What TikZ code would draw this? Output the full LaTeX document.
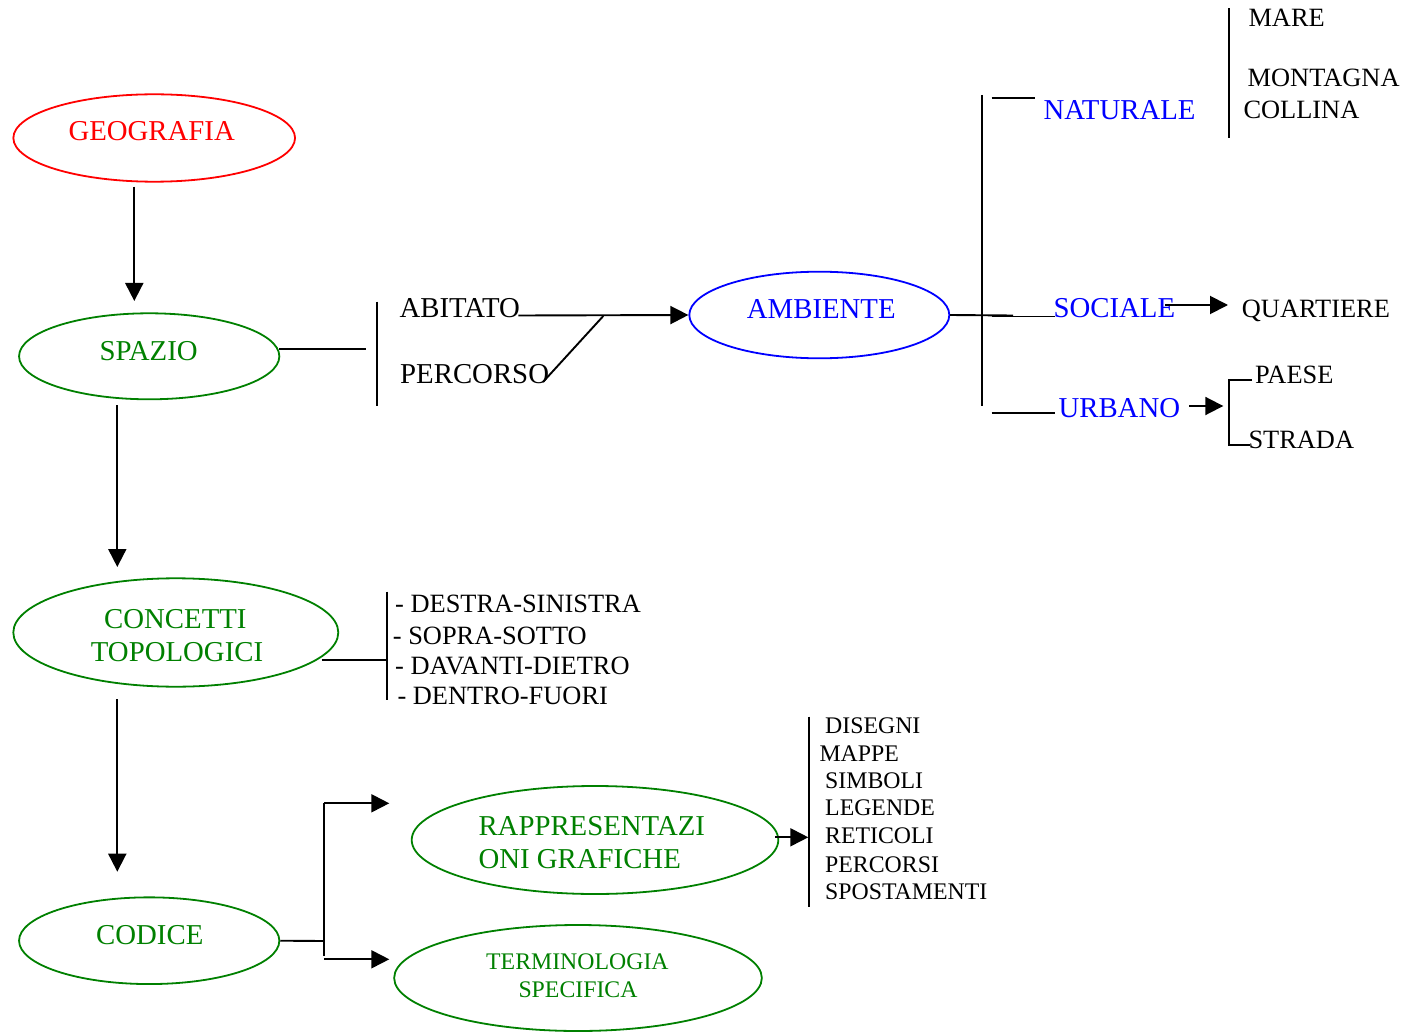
\documentclass[tikz,border=0pt]{standalone}
\usepackage{fontspec}
\setmainfont{Liberation Serif}
\usetikzlibrary{shapes.geometric,arrows.meta}
\definecolor{cred}{RGB}{255,0,0}
\definecolor{cgreen}{RGB}{0,128,0}
\definecolor{cblue}{RGB}{0,0,255}
\newcommand\FontBig{\fontsize{28.8}{30}\selectfont}
\newcommand\FontMed{\fontsize{26.4}{28}\selectfont}
\newcommand\FontSml{\fontsize{23.8}{25}\selectfont}
\tikzset{
  ell/.style={ellipse, draw, line width=1.8pt, inner sep=0pt},
  tbig/.style={anchor=west, inner sep=0pt, text height=19pt, text depth=0pt, font=\FontBig},
  tmed/.style={anchor=west, inner sep=0pt, text height=17.4pt, text depth=0pt, font=\FontMed},
  tsml/.style={anchor=west, inner sep=0pt, text height=15.7pt, text depth=0pt, font=\FontSml},
  ln/.style={line width=1.9pt, black},
  arr/.style={line width=1.9pt, black, -{Triangle[length=18pt,width=18pt]}}
}
\begin{document}
\begin{tikzpicture}[x=1pt,y=-1pt]
\useasboundingbox (0,0) rectangle (1405,1032);
% ellipses
\node[ell, draw=cred, minimum width=281.7pt, minimum height=87.4pt] (geo) at (154.2,138) {};
\node[ell, draw=cgreen, minimum width=260.3pt, minimum height=86pt] (spazio) at (149.2,356.3) {};
\node[ell, draw=cgreen, minimum width=325pt, minimum height=108.4pt] (concetti) at (175.8,632.5) {};
\node[ell, draw=cgreen, minimum width=260.3pt, minimum height=86.7pt] (codice) at (149.2,940.7) {};
\node[ell, draw=cblue, minimum width=260pt, minimum height=86.6pt] (ambiente) at (819.3,315) {};
\node[ell, draw=cgreen, minimum width=366.6pt, minimum height=108pt] (rapp) at (595,840) {};
\node[ell, draw=cgreen, minimum width=367.7pt, minimum height=106pt] (term) at (578,978) {};
% ellipse texts
\node[tbig, text=cred] (tgeo) at (68.3,131.3) {GEOGRAFIA};
\node[tbig, text=cgreen] (tspazio) at (99.3,350.5) {SPAZIO};
\node[tbig, text=cgreen] (tconc1) at (104,619.2) {CONCETTI};
\node[tbig, text=cgreen] (tconc2) at (90.7,651.8) {TOPOLOGICI};
\node[tbig, text=cgreen] (tcodice) at (96,934.5) {CODICE};
\node[tbig, text=cblue] (tamb) at (746.7,309.5) {AMBIENTE};
\node[tbig, text=cgreen] (trapp1) at (478.3,825.8) {RAPPRESENTAZI};
\node[tbig, text=cgreen] (trapp2) at (478.3,859.2) {ONI GRAFICHE};
\node[tsml, text=cgreen] (tterm1) at (486,961.3) {TERMINOLOGIA};
\node[tsml, text=cgreen] (tterm2) at (518.3,989.2) {SPECIFICA};
% blue labels
\node[tbig, text=cblue] (nat) at (1043.3,109.7) {NATURALE};
\node[tbig, text=cblue] (soc) at (1053.3,308.3) {SOCIALE};
\node[tbig, text=cblue] (urb) at (1058.3,407.5) {URBANO};
% black labels
\node[tbig] (abit) at (399.3,308.3) {ABITATO};
\node[tbig] (perc) at (400,374.2) {PERCORSO};
\node[tmed] (mare) at (1248.3,17.5) {MARE};
\node[tmed] (mont) at (1247.5,77.8) {MONTAGNA};
\node[tmed] (coll) at (1243.3,109.7) {COLLINA};
\node[tmed] (quart) at (1241.7,309) {QUARTIERE};
\node[tmed] (paese) at (1255,375) {PAESE};
\node[tmed] (strada) at (1248.3,440) {STRADA};
\node[tmed] (l1) at (395,604.2) {- DESTRA-SINISTRA};
\node[tmed] (l2) at (392.7,635.8) {- SOPRA-SOTTO};
\node[tmed] (l3) at (395,665.8) {- DAVANTI-DIETRO};
\node[tmed] (l4) at (397.3,695.8) {- DENTRO-FUORI};
\node[tsml] (s1) at (825,725.8) {DISEGNI};
\node[tsml] (s2) at (819.3,753.3) {MAPPE};
\node[tsml] (s3) at (825,780.8) {SIMBOLI};
\node[tsml] (s4) at (825,808) {LEGENDE};
\node[tsml] (s5) at (825,835.8) {RETICOLI};
\node[tsml] (s6) at (825,864.2) {PERCORSI};
\node[tsml] (s7) at (825,891.7) {SPOSTAMENTI};
% coordinates
\coordinate (g1) at (134.3,186.7);
\coordinate (g2) at (134.3,301);
\coordinate (sp1) at (117.3,405);
\coordinate (sp2) at (117.3,567);
\coordinate (co1) at (117.3,699);
\coordinate (co2) at (117.3,871.7);
\coordinate (spr1) at (279,349);
\coordinate (spr2) at (365.7,349);
\coordinate (b1a) at (376.7,301.7);
\coordinate (b1b) at (376.7,406);
\coordinate (ab1) at (518.3,315.5);
\coordinate (dg1) at (603.3,316);
\coordinate (dg2) at (543,382);
\coordinate (am1) at (1013,315.5);
\coordinate (am2) at (991.7,316.5);
\coordinate (am3) at (1055,316.5);
\coordinate (vb1) at (981.7,95);
\coordinate (vb2) at (981.7,406);
\coordinate (na1) at (991.7,98);
\coordinate (na2) at (1035,98);
\coordinate (so1) at (1165,305);
\coordinate (so2) at (1228,305);
\coordinate (ur1) at (991.7,412.7);
\coordinate (ur2) at (1055,412.7);
\coordinate (ur3) at (1189,406);
\coordinate (ur4) at (1223.3,406);
\coordinate (br1) at (1251.7,380);
\coordinate (br2) at (1229.3,380);
\coordinate (br3) at (1229.3,445);
\coordinate (br4) at (1250,445);
\coordinate (mb1) at (1229.3,8.3);
\coordinate (mb2) at (1229.3,138.3);
\coordinate (cc1) at (321.7,659.8);
\coordinate (cc2) at (387.3,659.8);
\coordinate (cb1) at (387.3,591.7);
\coordinate (cb2) at (387.3,700);
\coordinate (cd1) at (323.3,941);
\coordinate (cv1) at (324.3,803.3);
\coordinate (cv2) at (324.3,956);
\coordinate (cv3) at (324.3,959.3);
\coordinate (ct1) at (389.3,803.3);
\coordinate (ct2) at (389.3,959.3);
\coordinate (ra1) at (775,837.3);
\coordinate (ra2) at (808.3,837.3);
\coordinate (rb1) at (809.3,716.7);
\coordinate (rb2) at (809.3,906.7);
% connectors
\draw[arr] (g1) -- (g2);
\draw[arr] (sp1) -- (sp2);
\draw[arr] (co1) -- (co2);
\draw[ln] (spr1) -- (spr2);
\draw[ln] (b1a) -- (b1b);
\draw[arr] (ab1) -- (ambiente.west);
\draw[ln] (dg1) -- (dg2);
\draw[ln] (ambiente.east) -- (am1);
\draw[ln] (am2) -- (am3);
\draw[ln] (vb1) -- (vb2);
\draw[ln] (na1) -- (na2);
\draw[arr] (so1) -- (so2);
\draw[ln] (ur1) -- (ur2);
\draw[arr] (ur3) -- (ur4);
\draw[ln] (br1) -- (br2) -- (br3) -- (br4);
\draw[ln] (mb1) -- (mb2);
\draw[ln] (cc1) -- (cc2);
\draw[ln] (cb1) -- (cb2);
\draw[ln] (codice.east) -- (cd1);
\draw[ln] (cv1) -- (cv2);
\draw[arr] (cv1) -- (ct1);
\draw[arr] (cv3) -- (ct2);
\draw[arr] (ra1) -- (ra2);
\draw[ln] (rb1) -- (rb2);
\end{tikzpicture}
\end{document}
